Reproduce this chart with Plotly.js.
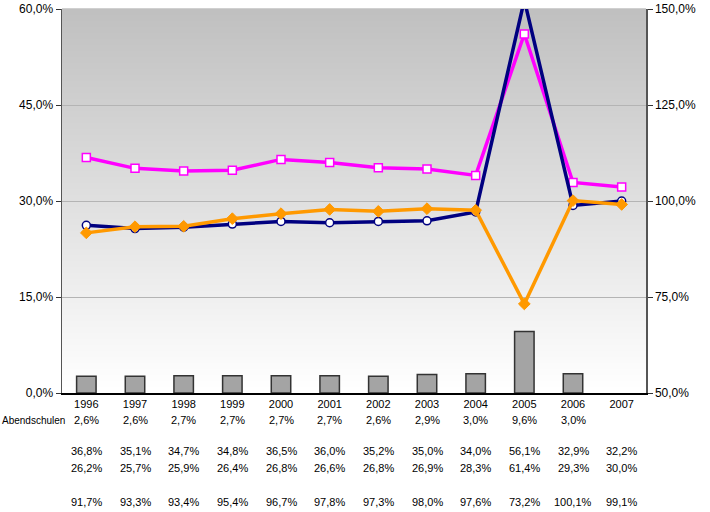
<!DOCTYPE html>
<html><head><meta charset="utf-8">
<script src="https://cdn.plot.ly/plotly-3.0.1.min.js"></script>
<style>html,body{margin:0;padding:0;background:#fff;}#chart{width:710px;height:512px;}</style>
</head><body><div id="chart"></div>
<script>
const years = ['1996','1997','1998','1999','2000','2001','2002','2003','2004','2005','2006','2007'];
const abendschulen = [2.6,2.6,2.7,2.7,2.7,2.7,2.6,2.9,3.0,9.6,3.0,null];
const seriesMagenta = [36.8,35.1,34.7,34.8,36.5,36.0,35.2,35.0,34.0,56.1,32.9,32.2];
const seriesNavy = [26.2,25.7,25.9,26.4,26.8,26.6,26.8,26.9,28.3,61.4,29.3,30.0];
const seriesOrange = [91.7,93.3,93.4,95.4,96.7,97.8,97.3,98.0,97.6,73.2,100.1,99.1];
const rowLabel = 'Abendschulen';
const leftTicks = [0,15,30,45,60];
const rightTicks = [50,75,100,125,150];

const fmt = v => (v === null || v === undefined) ? '' : v.toFixed(1).replace('.', ',') + '%';

const traces = [
  {type:'bar', x:years, y:abendschulen, yaxis:'y', width:0.4,
   marker:{color:'#a4a4a4', line:{color:'#333333', width:1.5}}, hoverinfo:'skip'},
  {type:'scatter', mode:'lines+markers', x:years, y:seriesMagenta, yaxis:'y',
   line:{color:'#ff00ff', width:3.5},
   marker:{symbol:'square', size:8, color:'#ffffff', line:{color:'#ff00ff', width:1.5}}},
  {type:'scatter', mode:'lines+markers', x:years, y:seriesNavy, yaxis:'y',
   line:{color:'#000080', width:3.5},
   marker:{symbol:'circle', size:8, color:'#ffffff', line:{color:'#000080', width:1.5}}},
  {type:'scatter', mode:'lines+markers', x:years, y:seriesOrange, yaxis:'y2',
   line:{color:'#ff9900', width:3.5},
   marker:{symbol:'diamond', size:9, color:'#ff9900', line:{color:'#ff9900', width:1}}}
];

// background gradient stripes
const shapes = [];
const N = 64;
for (let i = 0; i < N; i++) {
  const t = i / (N - 1);
  const c = Math.round(0xc0 + (0xff - 0xc0) * (1 - t));
  shapes.push({type:'rect', xref:'paper', yref:'paper', x0:0, x1:1,
    y0:i / N, y1:(i + 1) / N + 0.002, fillcolor:`rgb(${c},${c},${c})`,
    line:{width:0}, layer:'below'});
}

const pyToPaper = py => (393 - py) / 384;
const fontT = {family:'Liberation Sans, Arial, sans-serif', size:11, color:'#000'};
const annotations = [];
const rows = [
  {vals: abendschulen, py: 420},
  {vals: seriesMagenta, py: 451},
  {vals: seriesNavy, py: 468},
  {vals: seriesOrange, py: 502}
];
rows.forEach(r => {
  years.forEach((yr, i) => {
    const t = fmt(r.vals[i]);
    if (!t) return;
    annotations.push({x: (i + 0.5) / years.length, xref:'paper', y: pyToPaper(r.py), yref:'paper',
      text: t, showarrow:false, xanchor:'center', yanchor:'middle', font: fontT});
  });
});
annotations.push({x: -61 / 584, xref:'paper', y: pyToPaper(420), yref:'paper',
  text: rowLabel, showarrow:false, xanchor:'left', yanchor:'middle', borderpad:0,
  font: {family:'Liberation Sans, Arial, sans-serif', size:10, color:'#000'}});

const layout = {
  width:710, height:512,
  margin:{l:62, r:64, t:9, b:119},
  paper_bgcolor:'#ffffff', plot_bgcolor:'rgba(0,0,0,0)',
  showlegend:false,
  font:{family:'Liberation Sans, Arial, sans-serif', size:11, color:'#000'},
  xaxis:{type:'category', range:[-0.5, 11.5], showgrid:false, zeroline:false,
    showline:true, linecolor:'#000', linewidth:1.5, ticks:'', tickfont:{size:11},
    fixedrange:true},
  yaxis:{range:[0,60], tickmode:'array', tickvals:leftTicks, ticktext:leftTicks.map(fmt),
    showgrid:true, gridcolor:'#b4b4b4', gridwidth:1, zeroline:false,
    showline:true, linecolor:'#555', linewidth:1.5, ticks:'outside', ticklen:5, tickcolor:'#333',
    tickfont:{size:12}},
  yaxis2:{range:[50,150], tickmode:'array', tickvals:rightTicks, ticktext:rightTicks.map(fmt),
    overlaying:'y', side:'right', showgrid:false, zeroline:false,
    showline:true, linecolor:'#555', linewidth:1.5, ticks:'outside', ticklen:5, tickcolor:'#333',
    tickfont:{size:12}},
  shapes: shapes,
  annotations: annotations
};

Plotly.newPlot('chart', traces, layout, {displayModeBar:false, staticPlot:true});
</script>
</body></html>
